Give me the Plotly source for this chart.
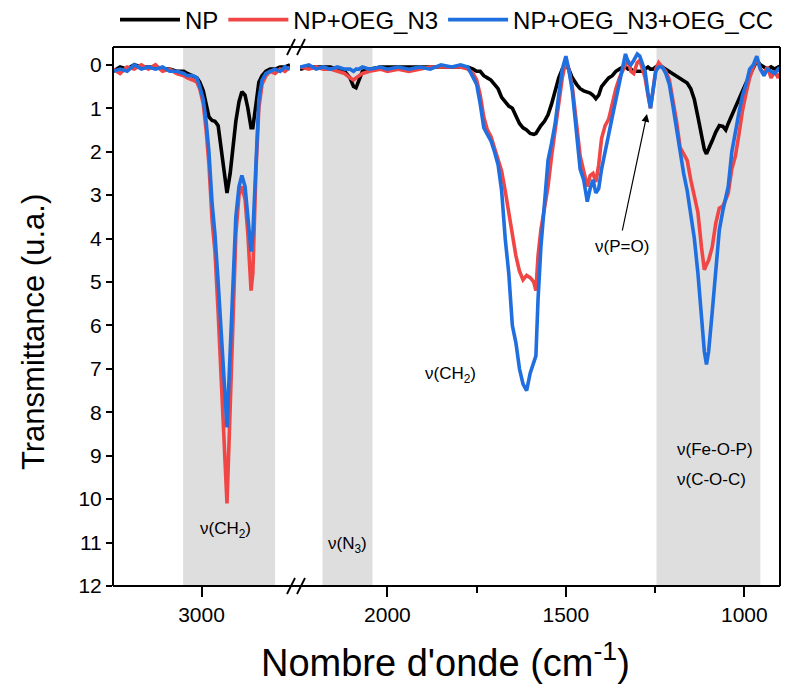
import plotly.graph_objects as go

# ---------------- data ----------------
series_names = ["NP", "NP+OEG_N3", "NP+OEG_N3+OEG_CC"]
series_colors = ["#000000", "#F04646", "#1F6FE0"]

# left segment of the broken axis (cm-1)
wn_left = [3250, 3230, 3210, 3190, 3170, 3150, 3130, 3110, 3090, 3070,
           3050, 3040, 3025, 3013, 3005, 2995, 2987, 2979, 2970, 2962,
           2953, 2945, 2936, 2928, 2919, 2911, 2903, 2894, 2886, 2877,
           2869, 2860, 2855, 2846, 2838, 2829, 2818, 2806, 2792, 2778,
           2764, 2750]
np_left = [0.15, 0.05, 0.1, 0.0, 0.05, 0.05, 0.05, 0.1, 0.1, 0.15,
           0.15, 0.2, 0.25, 0.3, 0.4, 0.6, 0.9, 1.2, 1.28, 1.3,
           1.4, 1.9, 2.6, 2.95, 2.5, 1.9, 1.3, 0.85, 0.62, 0.7,
           1.0, 1.45, 1.45, 0.9, 0.4, 0.25, 0.15, 0.1, 0.1, 0.05,
           0.05, 0.0]
n3_left = [0.1, 0.2, 0.05, 0.1, 0.0, 0.1, 0.0, 0.15, 0.1, 0.2,
           0.25, 0.3, 0.35, 0.4, 0.55, 0.9, 1.5, 2.3, 3.6, 4.3,
           5.7, 7.2, 8.7, 10.1, 7.9, 5.7, 3.9, 3.0, 2.8, 3.1,
           3.9, 5.2, 4.8, 2.4, 1.0, 0.45, 0.25, 0.15, 0.2, 0.1,
           0.15, 0.05]
cc_left = [0.15, 0.1, 0.15, 0.0, 0.1, 0.05, 0.1, 0.05, 0.15, 0.15,
           0.2, 0.25, 0.25, 0.3, 0.5, 0.8, 1.3, 2.0, 3.2, 3.9,
           5.0, 6.1, 7.2, 8.35, 6.6, 4.9, 3.5, 2.8, 2.55, 2.8,
           3.5, 4.3, 3.9, 2.0, 0.8, 0.35, 0.2, 0.15, 0.1, 0.15,
           0.05, 0.1]

# right segment of the broken axis (cm-1)
wn_right = [2245, 2220, 2200, 2180, 2160, 2140, 2120, 2105, 2095, 2088,
            2080, 2070, 2050, 2020, 2000, 1970, 1940, 1910, 1880, 1850,
            1820, 1795, 1775, 1760, 1750, 1740, 1730, 1720, 1710, 1700,
            1690, 1680, 1670, 1660, 1650, 1640, 1630, 1620, 1610, 1600,
            1590, 1584, 1578, 1570, 1560, 1550, 1540, 1530, 1520, 1510,
            1500, 1492, 1482, 1470, 1460, 1450, 1440, 1432, 1424, 1416,
            1408, 1400, 1390, 1380, 1370, 1360, 1350, 1340, 1333, 1325,
            1318, 1310, 1300, 1293, 1285, 1278, 1270, 1263, 1256, 1248,
            1240, 1230, 1220, 1210, 1200, 1190, 1180, 1170, 1160, 1150,
            1140, 1130, 1120, 1112, 1106, 1100, 1090, 1080, 1070, 1060,
            1052, 1045, 1035, 1025, 1015, 1005, 995, 985, 975, 965,
            955, 945, 935, 925, 915, 905, 900]
np_right = [0.1, 0.05, 0.05, 0.05, 0.05, 0.1, 0.15, 0.3, 0.5, 0.53,
            0.35, 0.15, 0.1, 0.05, 0.05, 0.05, 0.05, 0.05, 0.05, 0.05,
            0.05, 0.05, 0.05, 0.1, 0.15, 0.15, 0.25, 0.3, 0.35, 0.45,
            0.55, 0.75, 0.85, 0.95, 1.0, 1.2, 1.35, 1.45, 1.5, 1.58,
            1.6, 1.58, 1.5, 1.4, 1.3, 1.15, 0.9, 0.6, 0.3, 0.1,
            0.0, 0.1, 0.3, 0.45, 0.55, 0.6, 0.62, 0.65, 0.7, 0.78,
            0.7, 0.5, 0.4, 0.3, 0.25, 0.15, 0.1, 0.05, 0.05, 0.1,
            0.1, 0.15, 0.15, 0.15, 0.15, 0.1, 0.05, 0.1, 0.1, 0.05,
            0.0, 0.05, 0.1, 0.15, 0.2, 0.25, 0.3, 0.35, 0.42, 0.55,
            0.8, 1.2, 1.6, 1.95, 2.05, 1.95, 1.75, 1.55, 1.4, 1.42,
            1.5, 1.35, 1.15, 0.95, 0.75, 0.6, 0.42, 0.25, 0.05, -0.1,
            0.0, 0.05, 0.1, 0.05, 0.1, 0.05, 0.1]
n3_right = [0.05, 0.1, 0.05, 0.1, 0.1, 0.15, 0.2, 0.3, 0.35, 0.3,
            0.25, 0.2, 0.15, 0.1, 0.15, 0.1, 0.15, 0.1, 0.05, 0.05,
            0.05, 0.05, 0.1, 0.2, 0.35, 0.7, 1.2, 1.5, 1.65, 1.9,
            2.2, 2.45, 2.9, 3.4, 4.0, 4.4, 4.75, 4.95, 4.85, 4.9,
            5.0, 5.2, 4.4, 3.8, 3.3, 2.8, 2.1, 1.5, 0.8, 0.3,
            -0.1, 0.1, 0.5, 1.4, 2.1, 2.45, 2.8, 2.55, 2.5, 2.7,
            2.3, 1.7, 1.4, 1.25, 0.9, 0.55, 0.3, 0.1, 0.0, -0.1,
            0.15, 0.2, -0.05, -0.1, 0.1, 0.3, 0.7, 1.0, 0.6, 0.1,
            -0.05, 0.05, 0.15, 0.35, 0.8, 1.3, 1.9, 2.05, 2.2, 2.65,
            3.0, 3.4, 4.2, 4.72, 4.6, 4.5, 4.2, 3.65, 3.3, 3.25,
            3.1, 2.95, 2.4, 2.1, 1.6, 1.05, 0.65, 0.3, 0.05, -0.15,
            0.1, 0.2, 0.05, 0.3, 0.15, 0.3, 0.2]
cc_right = [0.05, 0.0, 0.1, 0.05, 0.1, 0.05, 0.1, 0.1, 0.15, 0.1,
            0.1, 0.05, 0.1, 0.05, 0.1, 0.05, 0.1, 0.05, 0.1, 0.0,
            0.05, 0.0, 0.05, 0.3, 0.45, 0.9, 1.45, 1.6, 1.75, 2.0,
            2.3, 2.9, 4.0, 4.8, 6.0, 6.4, 7.0, 7.35, 7.5, 7.1,
            6.85, 6.7, 5.4, 4.2, 3.2, 2.2, 1.8, 1.35, 0.7, 0.1,
            -0.2, 0.1, 0.6, 1.5, 2.4, 2.65, 3.15, 2.85, 2.65, 2.95,
            2.85, 2.4, 1.95, 1.6, 1.2, 0.8, 0.4, 0.1, -0.25, -0.05,
            0.0, -0.1, -0.25, -0.2, 0.0, 0.15, 0.65, 1.0, 0.6, 0.15,
            0.05, 0.05, 0.2, 0.45, 0.95, 1.5, 2.0, 2.5, 2.9, 3.4,
            4.0, 4.8, 5.9, 6.6, 6.9, 6.6, 5.7, 4.7, 3.8, 3.35,
            3.1, 2.8, 2.0, 1.5, 1.1, 0.7, 0.45, 0.1, 0.0, -0.2,
            0.1, 0.25, 0.1, 0.15, 0.2, 0.1, 0.15]

# shaded bands (cm-1): (start, end)
band_left = [(3052, 2792)]
band_right = [(2182, 2042), (1246, 955)]

x_ticks_left = [3000]
x_ticks_right = [2000, 1500, 1000]
x_minor_right = [1750, 1250]
y_ticks = list(range(0, 13))

# ---------------- figure ----------------
FONT = "Arial, Liberation Sans, sans-serif"
fig = go.Figure()

left_sets = [np_left, n3_left, cc_left]
right_sets = [np_right, n3_right, cc_right]
for name, color, yl, yr in zip(series_names, series_colors, left_sets, right_sets):
    fig.add_trace(go.Scatter(x=wn_left, y=yl, mode="lines", name=name,
                             line=dict(color=color, width=3.6),
                             legendgroup=name, showlegend=True,
                             xaxis="x", yaxis="y"))
    fig.add_trace(go.Scatter(x=wn_right, y=yr, mode="lines", name=name,
                             line=dict(color=color, width=3.6),
                             legendgroup=name, showlegend=False,
                             xaxis="x2", yaxis="y"))

# page body adds an 8px offset; size the figure so the plot lands where the reference has it
OFF = 8
W, H = 790, 678
ml, mt = 113 - OFF, 47 - OFF
mr = W - (780 - OFF)
mb = H - (586 - OFF)
pw, ph = W - ml - mr, H - mt - mb


def px(xp):
    return (xp - OFF - ml) / pw


def py(yp):
    return (H - mb - (yp - OFF)) / ph


shapes = []
for a, b in band_left:
    shapes.append(dict(type="rect", xref="x", yref="paper", x0=a, x1=b, y0=0, y1=1,
                       fillcolor="#DEDEDE", line=dict(width=0), layer="below"))
for a, b in band_right:
    shapes.append(dict(type="rect", xref="x2", yref="paper", x0=a, x1=b, y0=0, y1=1,
                       fillcolor="#DEDEDE", line=dict(width=0), layer="below"))

frame = dict(color="black", width=2)
shapes += [
    dict(type="line", xref="paper", yref="paper", x0=0, x1=1, y0=0, y1=0, line=frame),
    dict(type="line", xref="paper", yref="paper", x0=0, x1=1, y0=1, y1=1, line=frame),
    dict(type="line", xref="paper", yref="paper", x0=0, x1=0, y0=0, y1=1, line=frame),
    dict(type="line", xref="paper", yref="paper", x0=1, x1=1, y0=0, y1=1, line=frame),
]
# break marks
for cx in (291, 301):
    for cy in (586, 47):
        shapes.append(dict(type="line", xref="paper", yref="paper",
                           x0=px(cx - 4), x1=px(cx + 4), y0=py(cy + 8), y1=py(cy - 8),
                           line=dict(color="black", width=1.8)))

ann_font = dict(family=FONT, size=17, color="black")


def label(text, xs, ys, **kw):
    d = dict(text=text, x=px(xs), y=py(ys), xref="paper", yref="paper",
             showarrow=False, xanchor="center", yanchor="middle", font=ann_font)
    d.update(kw)
    return d


annotations = [
    label("ν(CH<sub>2</sub>)", 225, 530),
    label("ν(N<sub>3</sub>)", 347, 545),
    label("ν(CH<sub>2</sub>)", 450, 375),
    label("ν(P=O)", 622, 246),
    label("ν(Fe-O-P)", 715, 449),
    label("ν(C-O-C)", 711, 479),
    dict(text="", x=px(647), y=py(114), xref="paper", yref="paper",
         showarrow=True, ax=-25, ay=118, arrowhead=2, arrowsize=1.3, arrowwidth=1.2,
         arrowcolor="black"),
    label("Nombre d'onde (cm<sup>-1</sup>)", 445, 660,
          font=dict(family=FONT, size=38, color="black")),
    label("Transmittance (u.a.)", 33, 332, textangle=-90,
          font=dict(family=FONT, size=31, color="black")),
]

axis_common = dict(ticks="outside", tickcolor="black", tickwidth=1.5,
                   showgrid=False, zeroline=False, showline=False,
                   tickfont=dict(family=FONT, size=21, color="black"))

fig.update_layout(
    width=W, height=H,
    margin=dict(l=ml, r=mr, t=mt, b=mb, pad=0, autoexpand=False),
    plot_bgcolor="white", paper_bgcolor="white",
    font=dict(family=FONT, color="black"),
    xaxis=dict(domain=[0, px(290)], range=[3250, 2750], tickvals=x_ticks_left,
               ticklen=10, anchor="y", **axis_common),
    xaxis2=dict(domain=[px(300), 1], range=[2245, 900], tickvals=x_ticks_right,
                ticklen=10, anchor="y",
                minor=dict(tickvals=x_minor_right, ticks="outside", ticklen=6,
                           tickcolor="black", tickwidth=1.5),
                **axis_common),
    yaxis=dict(range=[12, -0.41], tickvals=y_ticks, ticklen=6, anchor="x", **axis_common),
    legend=dict(orientation="h", x=px(447), xanchor="center", y=py(20), yanchor="middle",
                font=dict(family=FONT, size=24, color="black"),
                bgcolor="rgba(0,0,0,0)", itemwidth=60, tracegroupgap=0),
    shapes=shapes,
    annotations=annotations,
    showlegend=True,
)

fig.write_html("out.html")
